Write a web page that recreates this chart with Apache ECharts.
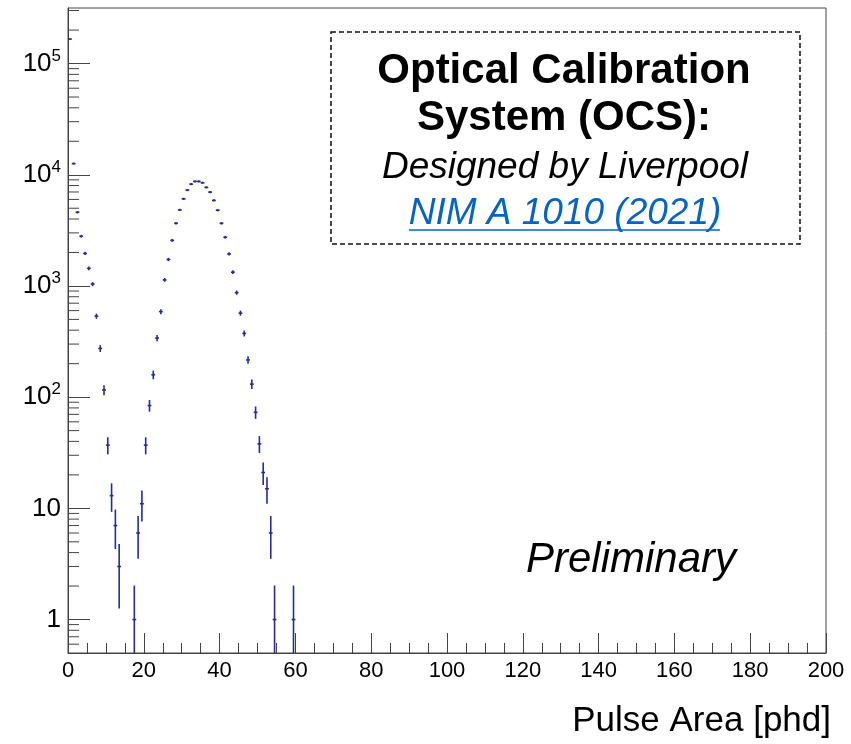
<!DOCTYPE html>
<html><head><meta charset="utf-8">
<script src="https://cdn.jsdelivr.net/npm/echarts@6/dist/echarts.min.js"></script>
<style>html,body{margin:0;padding:0;background:#fff}#c{width:851px;height:744px}</style>
</head><body><div id="c"></div>
<script>
// Bin centres [phd] and counts per bin (empty bins omitted)
const binCenters = [0.5,1.5,2.5,3.5,4.5,5.5,6.5,7.5,8.5,9.5,10.5,11.5,12.5,13.5,
  17.5,18.5,19.5,20.5,21.5,22.5,23.5,24.5,25.5,26.5,27.5,28.5,29.5,30.5,31.5,32.5,
  33.5,34.5,35.5,36.5,37.5,38.5,39.5,40.5,41.5,42.5,43.5,44.5,45.5,46.5,47.5,48.5,
  49.5,50.5,51.5,52.5,53.5,54.5,59.5];
const counts = [166000,12600,4600,2800,1960,1440,1040,535,274,116,37,13,7,3,
  1,6,11,37,84,159,340,588,1133,1730,2570,3660,4830,6070,7280,8240,
  8710,8710,8470,7700,6980,5880,4800,3660,2740,1940,1330,871,570,374,216,131,
  73,38,21,15,6,1,1];
const yMajorTicks = [1,10,100,1000,10000,100000];
const yTickLabels = ['{m|1}','{m|10}','{m|10}{s|2}','{m|10}{s|3}','{m|10}{s|4}','{m|10}{s|5}'];
const yMinorMultipliers = [2,3,4,5,6,7,8,9];
const yDecades = [0.1,1,10,100,1000,10000,100000];

const yMin = 0.5, yMax = 316000;
const yMinorTicks = [];
yDecades.forEach(d => yMinorMultipliers.forEach(m => {
  const v = d * m; if (v > yMin && v < yMax) yMinorTicks.push(v);
}));

const FONT = "'Liberation Sans', Arial, Helvetica, sans-serif";
const MARK = '#2a2a94';
const AX = '#444';

const chart = echarts.init(document.getElementById('c'), null, {renderer:'canvas'});
chart.setOption({
  animation:false,
  backgroundColor:'#fff',
  grid:{left:68, right:25, top:8, bottom:91, show:true, borderColor:AX, borderWidth:1, backgroundColor:'transparent'},
  xAxis:{type:'value', min:0, max:200, interval:20,
    axisLine:{lineStyle:{color:AX, width:1}},
    axisTick:{inside:true, length:20, lineStyle:{color:AX}},
    minorTick:{show:true, splitNumber:4, length:10, lineStyle:{color:AX}},
    splitLine:{show:false},
    axisLabel:{fontSize:22, fontFamily:FONT, color:'#000', margin:7}},
  yAxis:{type:'log', logBase:10, min:yMin, max:yMax,
    axisLine:{show:true, lineStyle:{color:AX, width:1}},
    axisTick:{inside:true, length:22, lineStyle:{color:AX}},
    splitLine:{show:false},
    axisLabel:{showMinLabel:false, showMaxLabel:false, margin:7, align:'right',
      formatter:function(v){
        for (let i=0;i<yMajorTicks.length;i++){ if (Math.abs(v-yMajorTicks[i])/yMajorTicks[i] < 1e-6) return yTickLabels[i]; }
        return '';
      },
      rich:{m:{fontSize:26, fontFamily:FONT, color:'#000', lineHeight:32},
            s:{fontSize:17, fontFamily:FONT, color:'#000', verticalAlign:'top', lineHeight:32}}}},
  series:[
    {type:'custom', name:'minorY', silent:true, clip:false,
      data: yMinorTicks.map(v => [0, v]),
      renderItem:function(params, api){
        const p = api.coord([0, api.value(1)]);
        return {type:'line', shape:{x1:p[0], y1:p[1], x2:p[0]+11, y2:p[1]}, style:{stroke:AX, lineWidth:1}};
      }},
    {type:'custom', name:'data', silent:true,
      data: binCenters.map((x,i) => [x, counts[i]]),
      encode:{x:0, y:1},
      renderItem:function(params, api){
        const x = api.value(0), y = api.value(1);
        const e = Math.sqrt(y);
        const cs = params.coordSys;
        const c = api.coord([x, y]);
        const top = api.coord([x, y + e])[1];
        const bot = (y - e) > 0 ? api.coord([x, y - e])[1] : cs.y + cs.height;
        const l = api.coord([x - 0.5, y])[0], r = api.coord([x + 0.5, y])[0];
        return {type:'group', children:[
          {type:'line', shape:{x1:c[0], y1:Math.max(top - 0.5, cs.y), x2:c[0], y2:Math.min(bot + 0.5, cs.y + cs.height)}, style:{stroke:MARK, lineWidth:1.6}},
          {type:'line', shape:{x1:l, y1:c[1], x2:r, y2:c[1]}, style:{stroke:MARK, lineWidth:1.6}}
        ]};
      }}
  ],
  graphic:[
    {type:'rect', shape:{x:331, y:32, width:469, height:212}, style:{fill:'none', stroke:'#111', lineWidth:1.5, lineDash:[5,3]}},
    {type:'text', x:564, y:71, style:{text:'Optical Calibration', font:"bold 42px "+FONT, fill:'#000', textAlign:'center', textVerticalAlign:'middle'}},
    {type:'text', x:564, y:118, style:{text:'System (OCS):', font:"bold 42px "+FONT, fill:'#000', textAlign:'center', textVerticalAlign:'middle'}},
    {type:'text', x:565, y:168, style:{text:'Designed by Liverpool', font:"italic 37px "+FONT, fill:'#000', textAlign:'center', textVerticalAlign:'middle'}},
    {type:'text', x:565, y:214, style:{text:'NIM A 1010 (2021)', font:"italic 37px "+FONT, fill:'#0563c1', textAlign:'center', textVerticalAlign:'middle'}},
    {type:'line', shape:{x1:409, y1:230, x2:720, y2:230}, style:{stroke:'#0563c1', lineWidth:1.5}},
    {type:'text', x:631, y:560, style:{text:'Preliminary', font:"italic 42px "+FONT, fill:'#000', textAlign:'center', textVerticalAlign:'middle'}},
    {type:'text', x:831, y:721, style:{text:'Pulse Area [phd]', font:"35px "+FONT, fill:'#000', textAlign:'right', textVerticalAlign:'middle'}}
  ]
});
</script></body></html>
